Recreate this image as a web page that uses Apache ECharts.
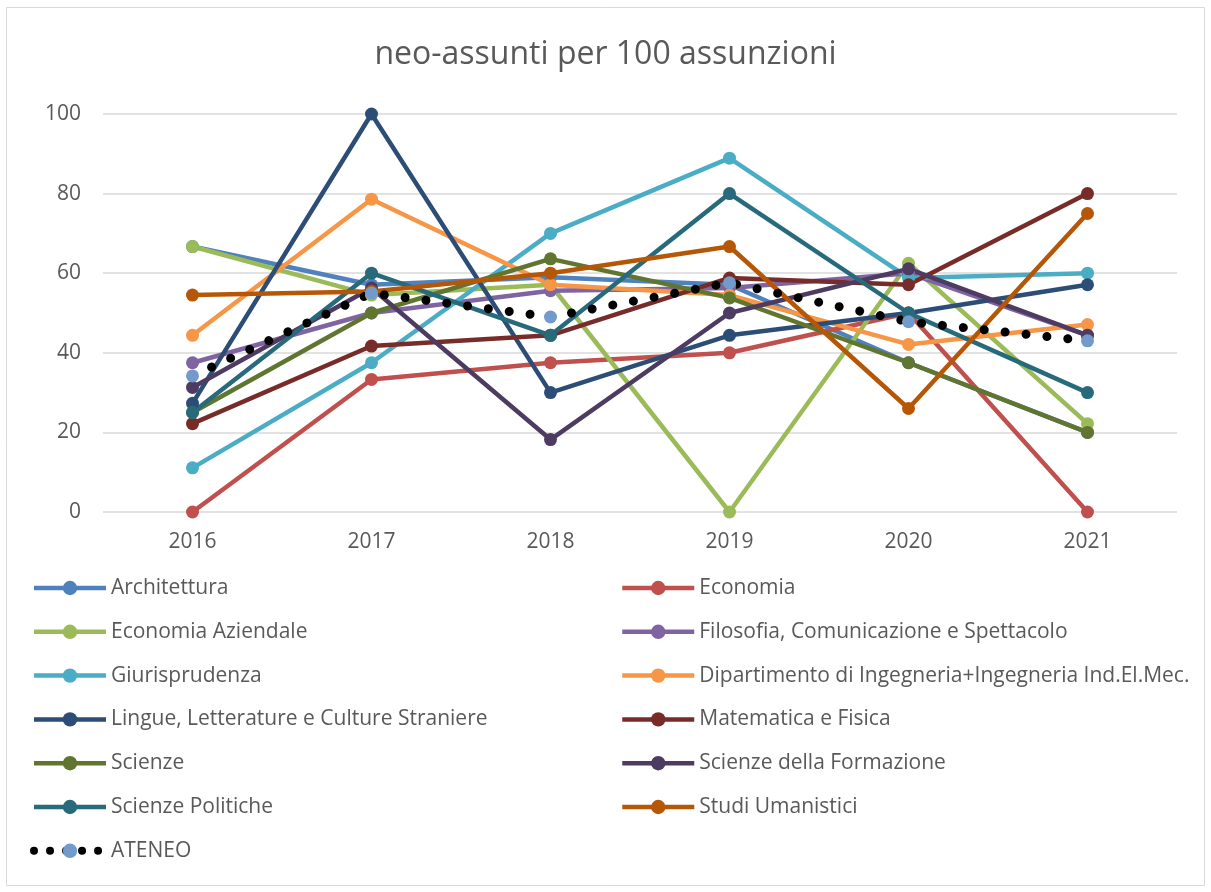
<!DOCTYPE html>
<html>
<head>
<meta charset="utf-8">
<title>neo-assunti per 100 assunzioni</title>
<script src="https://cdn.jsdelivr.net/npm/echarts@6/dist/echarts.min.js"></script>
<style>
  html, body { margin: 0; padding: 0; background: #fff; }
  #chart { width: 1211px; height: 892px; }
</style>
</head>
<body>
<div id="chart"></div>
<script>
// anni sull'asse x
const years = ['2016', '2017', '2018', '2019', '2020', '2021']
const yTicks = [0, 20, 40, 60, 80, 100]

// valori
const architettura = [66.7, 57.1, 59, 57.1, 37.5, 20]
const economia = [0, 33.3, 37.5, 40, 50, 0]
const economiaAziendale = [66.7, 54.5, 57.1, 0, 62.5, 22.2]
const filosofia = [37.5, 50, 55.6, 56.3, 60, 44.4]
const giurisprudenza = [11.1, 37.5, 70, 88.9, 58.8, 60]
const ingegneria = [44.4, 78.6, 57.1, 54.5, 42.1, 47.1]
const lingue = [27.3, 100, 30, 44.4, 50, 57.1]
const matematica = [22.2, 41.7, 44.4, 58.8, 57.1, 80]
const scienze = [25, 50, 63.6, 53.8, 37.5, 20]
const formazione = [31.3, 56.3, 18.2, 50, 61.1, 44.4]
const scienzePolitiche = [25, 60, 44.4, 80, 50, 30]
const studiUmanistici = [54.5, 55.4, 60, 66.7, 26, 75]
const ateneo = [34.2, 55, 49, 57.6, 47.8, 43]

const FONT = '"Open Sans", "Noto Sans", sans-serif'
const TEXT = '#595959'

const depts = [
  { name: 'Architettura', data: architettura, color: '#4F81BD' },
  { name: 'Economia', data: economia, color: '#C0504D' },
  { name: 'Economia Aziendale', data: economiaAziendale, color: '#9BBB59' },
  { name: 'Filosofia, Comunicazione e Spettacolo', data: filosofia, color: '#8064A2' },
  { name: 'Giurisprudenza', data: giurisprudenza, color: '#4BACC6' },
  { name: 'Dipartimento di Ingegneria+Ingegneria Ind.El.Mec.', data: ingegneria, color: '#F79646' },
  { name: 'Lingue, Letterature e Culture Straniere', data: lingue, color: '#2C4D75' },
  { name: 'Matematica e Fisica', data: matematica, color: '#772C2A' },
  { name: 'Scienze', data: scienze, color: '#5F7530' },
  { name: 'Scienze della Formazione', data: formazione, color: '#4D3B62' },
  { name: 'Scienze Politiche', data: scienzePolitiche, color: '#276A7C' },
  { name: 'Studi Umanistici', data: studiUmanistici, color: '#B65708' }
]

const series = depts.map((d) => {
  return {
    name: d.name,
    type: 'line',
    data: d.data,
    symbol: 'circle',
    symbolSize: 13,
    color: d.color,
    itemStyle: { color: d.color },
    lineStyle: { color: d.color, width: 4.5 },
    emphasis: { disabled: true }
  }
})
series.push({
  name: 'ATENEO',
  type: 'line',
  data: ateneo,
  symbol: 'circle',
  symbolSize: 13,
  color: '#729ACA',
  itemStyle: { color: '#729ACA' },
  lineStyle: { color: '#000', width: 9, type: [0.01, 21], cap: 'round' },
  emphasis: { disabled: true }
})

// legenda in due colonne
const legendItem = (name) => {
  if (name === 'ATENEO') {
    return { name: name, lineStyle: { color: '#000', width: 8, type: [0.01, 16], cap: 'round' } }
  }
  return { name: name, lineStyle: { width: 4.5 } }
}
const leftNames = depts.filter((d, i) => i % 2 === 0).map((d) => d.name).concat(['ATENEO'])
const rightNames = depts.filter((d, i) => i % 2 === 1).map((d) => d.name)
const legendBase = {
  orient: 'vertical',
  top: 572,
  itemWidth: 72,
  itemHeight: 18,
  itemGap: 21.8,
  textStyle: { fontFamily: FONT, fontSize: 21, color: TEXT, lineHeight: 22 }
}

const option = {
  animation: false,
  backgroundColor: '#fff',
  title: {
    text: 'neo-assunti per 100 assunzioni',
    left: 'center',
    top: 34,
    textStyle: { fontFamily: FONT, fontSize: 32, fontWeight: 'normal', color: TEXT }
  },
  graphic: [
    {
      type: 'rect',
      shape: { x: 6.5, y: 7.5, width: 1198, height: 878 },
      style: { fill: 'none', stroke: '#d9d9d9', lineWidth: 1 },
      z: -1
    }
  ],
  legend: [
    Object.assign({}, legendBase, { left: 25, data: leftNames.map(legendItem) }),
    Object.assign({}, legendBase, { left: 615, data: rightNames.map(legendItem) })
  ],
  grid: { left: 103, right: 34, top: 114, height: 398 },
  xAxis: {
    type: 'category',
    data: years,
    boundaryGap: true,
    axisLine: { show: false },
    axisTick: { show: false },
    axisLabel: { fontFamily: FONT, fontSize: 21, color: TEXT, margin: 20 }
  },
  yAxis: {
    type: 'value',
    min: yTicks[0],
    max: yTicks[yTicks.length - 1],
    interval: 20,
    axisLine: { show: false },
    axisTick: { show: false },
    splitLine: { lineStyle: { color: '#d9d9d9', width: 1.5 } },
    axisLabel: { fontFamily: FONT, fontSize: 21, color: TEXT, margin: 22 }
  },
  series: series
}

const chart = echarts.init(document.getElementById('chart'))
chart.setOption(option)
</script>
</body>
</html>
